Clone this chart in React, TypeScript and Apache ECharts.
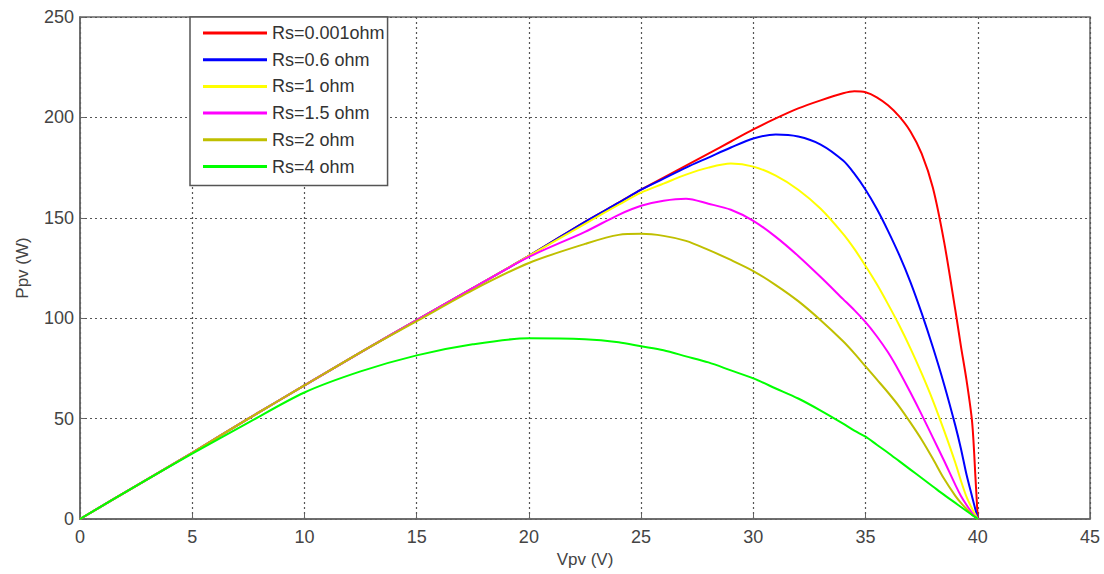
import React, { useEffect, useRef } from "react";
import * as echarts from "echarts";

const vpv = [0, 2.5, 5, 7.5, 10, 12.5, 15, 17.5, 20, 22.5, 24, 25, 26, 27, 28, 29, 30, 31, 32, 33, 34, 34.5, 35, 35.5, 36, 36.5, 37, 37.5, 38, 38.5, 39, 39.25, 39.5, 39.75, 39.9, 40];

const rs0001 = [0, 16.5, 33, 50, 66.5, 83, 99, 115, 131, 148, 157.5, 164, 170, 176, 182, 188, 194, 199.5, 204.5, 208.5, 212, 213, 212.5, 210, 206, 200.5, 193, 182, 165, 138, 104, 86, 69, 48, 20, 0];
const rs06 = [0, 16.5, 33, 50, 66.5, 83, 99, 115, 131, 148, 157.5, 164, 169.5, 175, 180, 185, 189.5, 191.5, 190.5, 186.5, 178.5, 172, 164, 154.5, 143.5, 131.5, 118, 102.5, 85.5, 67, 46.5, 35, 22, 11, 4.5, 0];
const rs1 = [0, 16.5, 33, 50, 66.5, 83, 99, 115, 131, 147, 156.5, 162.5, 167, 171.5, 175, 177, 175.5, 171, 164, 154.5, 142, 134.5, 126, 117, 107, 96.5, 85, 72.5, 59, 44, 28, 19, 11, 5, 2, 0];
const rs15 = [0, 16.5, 33, 50, 66.5, 83, 99, 115, 130.5, 143, 151.5, 156, 158.5, 159.5, 157, 154, 148.5, 140.5, 131, 120.5, 109.5, 104, 98, 91, 83, 73.5, 63, 52, 40.5, 29, 17, 11.5, 7, 3, 1, 0];
const rs2 = [0, 16.5, 33, 50, 66.5, 83, 98.5, 114, 127.5, 137, 141.5, 142, 141, 138.5, 134, 129, 123.5, 116.5, 108.5, 99, 88.5, 82.5, 76, 69.5, 63, 56, 48, 39.5, 30, 20, 11.5, 8, 5, 2, 1, 0];
const rs4 = [0, 16.5, 32.5, 48, 63, 73.5, 81.5, 87, 90, 89.5, 88, 86, 84, 81, 78, 74, 70, 65, 60, 54, 47.5, 44, 41, 37, 33, 28.8, 24.6, 20.4, 16.2, 12, 8, 6, 4, 2, 0.8, 0];

const seriesNames = ["Rs=0.001ohm", "Rs=0.6 ohm", "Rs=1 ohm", "Rs=1.5 ohm", "Rs=2 ohm", "Rs=4 ohm"];
const seriesValues = [rs0001, rs06, rs1, rs15, rs2, rs4];
const seriesColors = ["#ff0000", "#0000ff", "#ffff00", "#ff00ff", "#bfbf00", "#00ff00"];

const xTicks = { min: 0, max: 45, interval: 5 };
const yTicks = { min: 0, max: 250, interval: 50 };

const FONT = "'Liberation Sans', Arial, sans-serif";
const LINE_ICON = "path://M0,0 L64,0 L64,3 L0,3 Z";

export default function App() {
  const ref = useRef<HTMLDivElement>(null);
  useEffect(() => {
    if (!ref.current) return;
    const chart = echarts.init(ref.current, undefined, { renderer: "svg" });
    const axisCommon = {
      axisLine: { show: true, lineStyle: { color: "#666", width: 1.5 } },
      axisTick: { show: true, inside: true, length: 5, lineStyle: { color: "#666" } },
      splitLine: { show: true, lineStyle: { color: "#555", type: [2, 3], width: 1.2 } },
      axisLabel: { color: "#444", fontSize: 18, fontFamily: FONT },
      nameTextStyle: { color: "#444", fontSize: 17, fontFamily: FONT },
    };
    chart.setOption({
      animation: false,
      backgroundColor: "#ffffff",
      grid: {
        left: 80,
        right: 14,
        top: 17,
        bottom: 55,
        show: true,
        borderColor: "#666",
        borderWidth: 1.5,
        backgroundColor: "transparent",
      },
      xAxis: {
        type: "value",
        min: xTicks.min,
        max: xTicks.max,
        interval: xTicks.interval,
        name: "Vpv (V)",
        nameLocation: "middle",
        nameGap: 29,
        ...axisCommon,
        axisLabel: { ...axisCommon.axisLabel, margin: 9 },
      },
      yAxis: {
        type: "value",
        min: yTicks.min,
        max: yTicks.max,
        interval: yTicks.interval,
        name: "Ppv (W)",
        nameLocation: "middle",
        nameGap: 49,
        ...axisCommon,
        axisLabel: { ...axisCommon.axisLabel, margin: 6 },
      },
      legend: {
        orient: "vertical",
        left: 190,
        top: 17,
        padding: [7, 3, 10, 13],
        itemWidth: 64,
        itemHeight: 14,
        itemGap: 8.7,
        borderColor: "#555",
        borderWidth: 1.5,
        backgroundColor: "#ffffff",
        textStyle: { color: "#333", fontSize: 18, fontFamily: FONT },
        data: seriesNames.map((n) => ({ name: n, icon: LINE_ICON })),
        z: 10,
      },
      series: seriesNames.map((name, i) => ({
        name,
        type: "line",
        data: vpv.map((x, j) => [x, seriesValues[i][j]]),
        showSymbol: false,
        symbol: "none",
        smooth: 0.3,
        color: seriesColors[i],
        itemStyle: { color: seriesColors[i] },
        lineStyle: { color: seriesColors[i], width: 2, join: "round" },
      })),
    });
    return () => chart.dispose();
  }, []);
  return (
    <div
      ref={ref}
      style={{ position: "fixed", left: 0, top: 0, width: 1104, height: 574, background: "#fff" }}
    />
  );
}
